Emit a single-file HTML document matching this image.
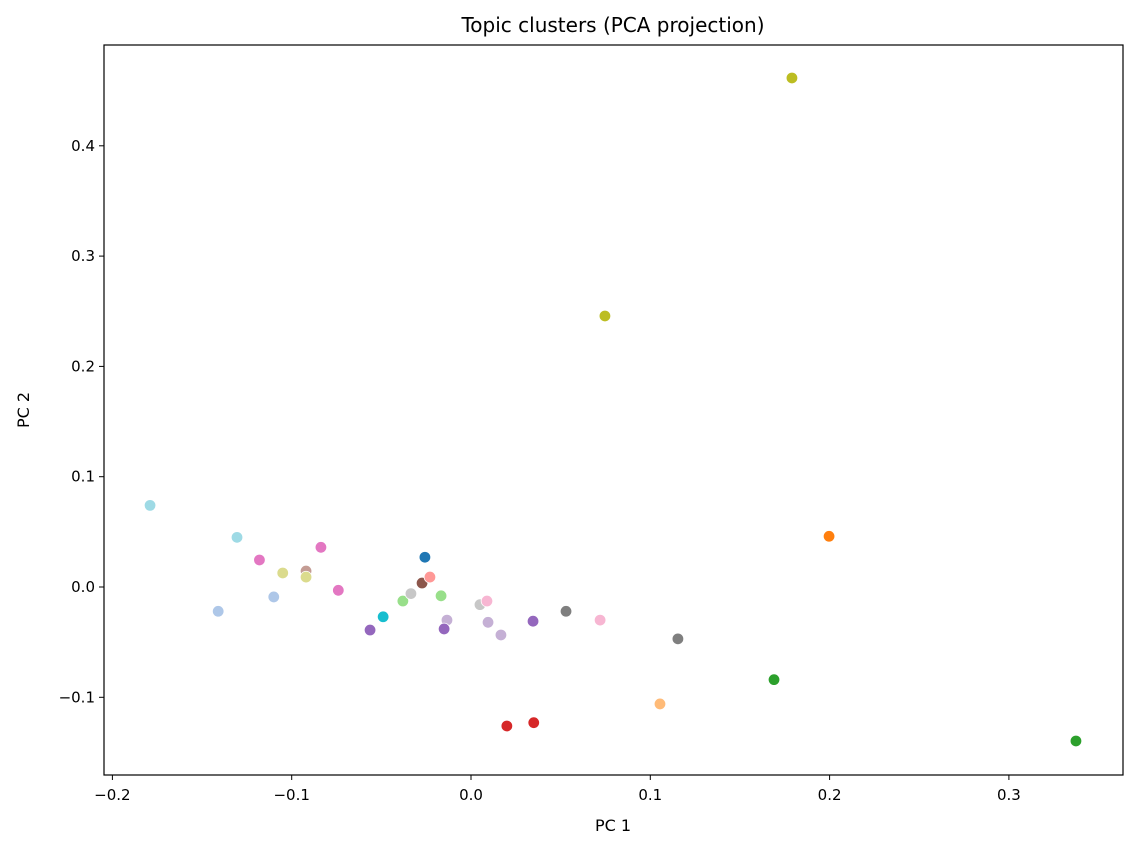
<!DOCTYPE html>
<html><head><meta charset="utf-8"><style>
body{margin:0;background:#fff;font-family:"Liberation Sans","DejaVu Sans",sans-serif;}
svg text{font-family:"DejaVu Sans","Liberation Sans",sans-serif;fill:#000;}
</style></head><body>
<svg id="chart" width="1137" height="849" viewBox="0 0 1137 849" xmlns="http://www.w3.org/2000/svg">
<rect width="1137" height="849" fill="#fff"/>
<text x="613" y="32" font-size="20" text-anchor="middle">Topic clusters (PCA projection)</text>
<g id="marks"></g>
<rect x="104" y="45" width="1019" height="730" fill="none" stroke="#000" stroke-width="1.2"/>
<g id="axes"></g>
<text x="613" y="831" font-size="16" text-anchor="middle">PC 1</text>
<text transform="translate(29,410) rotate(-90)" font-size="16" text-anchor="middle">PC 2</text>
</svg>
<script>
const xs = [-0.179,-0.1305,-0.141,-0.118,-0.110,-0.105,-0.092,-0.092,-0.0837,-0.074,-0.0563,-0.049,-0.038,-0.0335,-0.0273,-0.0257,-0.0229,-0.0167,-0.0134,-0.015,0.005,0.0089,0.0095,0.0167,0.0346,0.053,0.072,0.1154,0.1054,0.020,0.035,0.0747,0.179,0.1997,0.169,0.3374];
const ys = [0.074,0.045,-0.022,0.0245,-0.009,0.0127,0.0145,0.009,0.036,-0.003,-0.039,-0.027,-0.0127,-0.006,0.0036,0.027,0.009,-0.008,-0.030,-0.038,-0.016,-0.0127,-0.032,-0.0435,-0.031,-0.022,-0.030,-0.047,-0.106,-0.126,-0.123,0.2457,0.4615,0.046,-0.084,-0.1396];
const colors = ["#9edae5","#9edae5","#aec7e8","#e377c2","#aec7e8","#dbdb8d","#c49c94","#dbdb8d","#e377c2","#e377c2","#9467bd","#17becf","#98df8a","#c7c7c7","#8c564b","#1f77b4","#ff9896","#98df8a","#c5b0d5","#9467bd","#c7c7c7","#f7b6d2","#c5b0d5","#c5b0d5","#9467bd","#7f7f7f","#f7b6d2","#7f7f7f","#ffbb78","#d62728","#d62728","#bcbd22","#bcbd22","#ff7f0e","#2ca02c","#2ca02c"];
const xTicks = [-0.2,-0.1,0.0,0.1,0.2,0.3];
const xTickLabels = ["−0.2","−0.1","0.0","0.1","0.2","0.3"];
const yTicks = [-0.1,0.0,0.1,0.2,0.3,0.4];
const yTickLabels = ["−0.1","0.0","0.1","0.2","0.3","0.4"];
const X = v => 471 + v*1793;
const Y = v => 587 - v*1103;
const NS="http://www.w3.org/2000/svg";
const marks=document.getElementById('marks'), axes=document.getElementById('axes');
xs.forEach((x,i)=>{
  const c=document.createElementNS(NS,'circle');
  c.setAttribute('cx',X(x));c.setAttribute('cy',Y(ys[i]));c.setAttribute('r',5.8);
  c.setAttribute('fill',colors[i]);c.setAttribute('stroke','#fff');c.setAttribute('stroke-width',0.8);
  
  
  marks.appendChild(c);
});
xTicks.forEach((t,i)=>{
  const l=document.createElementNS(NS,'line');
  l.setAttribute('x1',X(t));l.setAttribute('x2',X(t));l.setAttribute('y1',775);l.setAttribute('y2',780);l.setAttribute('stroke','#000');
  
  
  axes.appendChild(l);
  const tx=document.createElementNS(NS,'text');
  tx.setAttribute('x',X(t));tx.setAttribute('y',800);tx.setAttribute('font-size',15);tx.setAttribute('text-anchor','middle');
  tx.textContent=xTickLabels[i];
  
  
  axes.appendChild(tx);
});
yTicks.forEach((t,i)=>{
  const l=document.createElementNS(NS,'line');
  l.setAttribute('x1',99);l.setAttribute('x2',104);l.setAttribute('y1',Y(t));l.setAttribute('y2',Y(t));l.setAttribute('stroke','#000');
  
  
  axes.appendChild(l);
  const tx=document.createElementNS(NS,'text');
  tx.setAttribute('x',95);tx.setAttribute('y',Y(t)+5);tx.setAttribute('font-size',15);tx.setAttribute('text-anchor','end');
  tx.textContent=yTickLabels[i];
  
  
  axes.appendChild(tx);
});
</script>
</body></html>
